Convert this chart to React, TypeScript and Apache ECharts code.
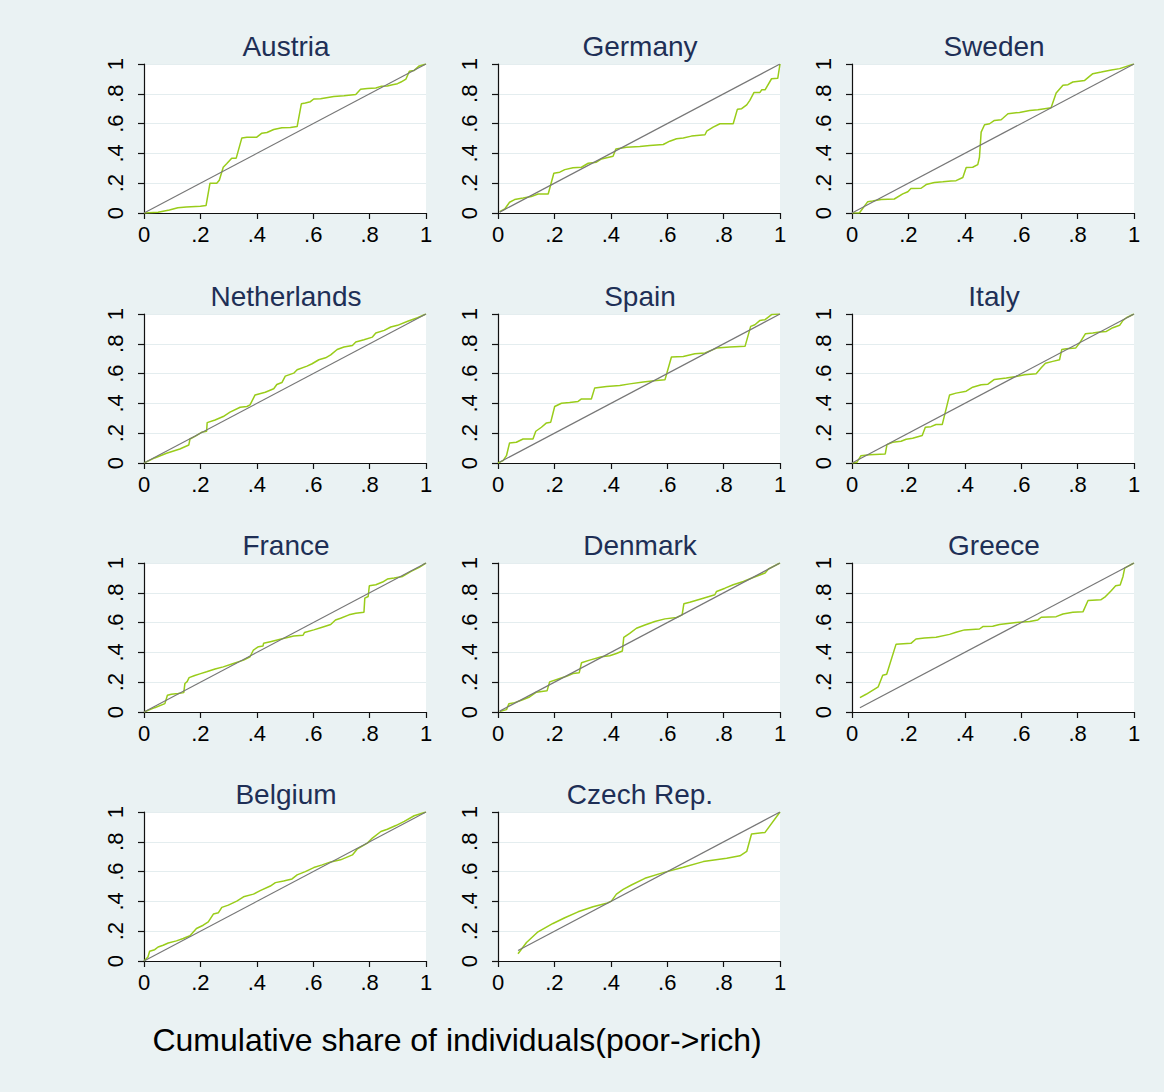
import React, { useEffect, useRef } from 'react';
import * as echarts from 'echarts';

const countries = ['Austria', 'Germany', 'Sweden', 'Netherlands', 'Spain', 'Italy', 'France', 'Denmark', 'Greece', 'Belgium', 'Czech Rep.'];

const austria = [[0,0],[0.05,0.005],[0.09,0.02],[0.12,0.035],[0.15,0.04],[0.2,0.045],[0.22,0.05],[0.234,0.2],[0.258,0.2],[0.267,0.22],[0.281,0.307],[0.293,0.33],[0.311,0.368],[0.327,0.368],[0.347,0.504],[0.365,0.509],[0.4,0.509],[0.418,0.536],[0.436,0.54],[0.46,0.56],[0.489,0.572],[0.519,0.574],[0.543,0.58],[0.558,0.733],[0.572,0.738],[0.59,0.747],[0.602,0.765],[0.626,0.767],[0.673,0.782],[0.709,0.787],[0.751,0.796],[0.768,0.83],[0.792,0.836],[0.822,0.839],[0.84,0.85],[0.863,0.852],[0.881,0.861],[0.899,0.868],[0.911,0.879],[0.929,0.899],[0.941,0.951],[0.958,0.957],[0.976,0.987],[1,1]];
const germany = [[0.006,0.009],[0.024,0.027],[0.041,0.072],[0.059,0.09],[0.089,0.1],[0.118,0.11],[0.142,0.128],[0.178,0.128],[0.198,0.267],[0.219,0.274],[0.237,0.291],[0.266,0.303],[0.296,0.307],[0.32,0.334],[0.349,0.341],[0.367,0.363],[0.408,0.381],[0.418,0.43],[0.456,0.442],[0.503,0.446],[0.538,0.453],[0.586,0.46],[0.609,0.482],[0.633,0.498],[0.657,0.504],[0.686,0.516],[0.734,0.525],[0.74,0.549],[0.763,0.576],[0.787,0.599],[0.834,0.599],[0.849,0.697],[0.864,0.7],[0.882,0.726],[0.893,0.756],[0.908,0.809],[0.929,0.809],[0.935,0.827],[0.947,0.827],[0.97,0.901],[0.992,0.904],[1,1]];
const sweden = [[0,0],[0.026,0],[0.056,0.076],[0.073,0.081],[0.103,0.09],[0.15,0.094],[0.18,0.128],[0.198,0.143],[0.209,0.164],[0.245,0.166],[0.263,0.191],[0.292,0.204],[0.322,0.209],[0.351,0.215],[0.369,0.217],[0.393,0.238],[0.405,0.305],[0.428,0.307],[0.446,0.325],[0.452,0.374],[0.458,0.543],[0.47,0.592],[0.488,0.599],[0.505,0.621],[0.529,0.626],[0.537,0.639],[0.553,0.666],[0.594,0.675],[0.63,0.688],[0.659,0.693],[0.689,0.702],[0.706,0.706],[0.724,0.805],[0.748,0.857],[0.766,0.861],[0.783,0.879],[0.825,0.89],[0.854,0.935],[0.884,0.946],[0.92,0.96],[0.949,0.969],[1,1]];
const netherlands = [[0,0],[0.038,0.034],[0.08,0.065],[0.127,0.094],[0.159,0.121],[0.163,0.161],[0.181,0.179],[0.204,0.206],[0.222,0.213],[0.224,0.271],[0.252,0.289],[0.281,0.312],[0.305,0.341],[0.341,0.374],[0.365,0.379],[0.376,0.39],[0.394,0.457],[0.43,0.475],[0.46,0.498],[0.471,0.527],[0.489,0.54],[0.501,0.583],[0.531,0.603],[0.543,0.626],[0.578,0.65],[0.596,0.666],[0.62,0.693],[0.644,0.706],[0.662,0.726],[0.685,0.762],[0.709,0.778],[0.739,0.789],[0.751,0.812],[0.78,0.827],[0.81,0.845],[0.822,0.872],[0.852,0.89],[0.875,0.913],[0.899,0.924],[0.935,0.951],[0.97,0.975],[1,1]];
const spain = [[0,0],[0.018,0.016],[0.03,0.049],[0.041,0.135],[0.065,0.139],[0.089,0.161],[0.124,0.161],[0.134,0.213],[0.154,0.24],[0.172,0.269],[0.187,0.274],[0.201,0.379],[0.225,0.401],[0.254,0.406],[0.284,0.413],[0.296,0.43],[0.331,0.43],[0.343,0.504],[0.385,0.513],[0.432,0.52],[0.467,0.531],[0.515,0.543],[0.562,0.554],[0.592,0.558],[0.615,0.711],[0.657,0.715],[0.698,0.733],[0.734,0.738],[0.775,0.771],[0.822,0.778],[0.876,0.783],[0.896,0.917],[0.911,0.928],[0.929,0.957],[0.947,0.962],[0.97,0.996],[1,1]];
const italy = [[0,0],[0.017,0.004],[0.032,0.049],[0.062,0.056],[0.118,0.061],[0.124,0.123],[0.144,0.139],[0.174,0.146],[0.192,0.159],[0.215,0.166],[0.249,0.184],[0.26,0.24],[0.28,0.244],[0.298,0.258],[0.32,0.258],[0.346,0.457],[0.369,0.469],[0.405,0.482],[0.428,0.509],[0.458,0.525],[0.482,0.529],[0.505,0.561],[0.547,0.57],[0.582,0.581],[0.612,0.592],[0.653,0.599],[0.671,0.639],[0.686,0.67],[0.712,0.682],[0.736,0.693],[0.744,0.762],[0.76,0.767],[0.793,0.771],[0.807,0.805],[0.828,0.868],[0.854,0.872],[0.878,0.879],[0.902,0.883],[0.925,0.908],[0.949,0.924],[0.961,0.957],[0.973,0.975],[1,1]];
const france = [[0,0],[0.038,0.029],[0.074,0.056],[0.083,0.112],[0.097,0.119],[0.121,0.124],[0.141,0.13],[0.145,0.191],[0.153,0.204],[0.16,0.231],[0.18,0.245],[0.198,0.256],[0.222,0.27],[0.252,0.288],[0.281,0.303],[0.317,0.326],[0.353,0.348],[0.376,0.371],[0.388,0.416],[0.406,0.438],[0.422,0.443],[0.424,0.461],[0.448,0.472],[0.483,0.488],[0.531,0.51],[0.564,0.515],[0.569,0.533],[0.602,0.551],[0.632,0.569],[0.662,0.587],[0.679,0.618],[0.697,0.629],[0.727,0.652],[0.751,0.663],[0.78,0.67],[0.783,0.764],[0.795,0.775],[0.799,0.847],[0.822,0.854],[0.846,0.872],[0.863,0.892],[0.887,0.899],[0.917,0.91],[0.947,0.944],[0.976,0.971],[1,1]];
const denmark = [[0.006,0.004],[0.03,0.016],[0.039,0.056],[0.059,0.063],[0.083,0.079],[0.112,0.101],[0.136,0.133],[0.174,0.142],[0.183,0.202],[0.219,0.225],[0.243,0.24],[0.266,0.258],[0.288,0.263],[0.296,0.33],[0.325,0.348],[0.367,0.371],[0.396,0.378],[0.42,0.393],[0.441,0.409],[0.446,0.501],[0.467,0.528],[0.491,0.562],[0.521,0.584],[0.556,0.607],[0.592,0.625],[0.633,0.634],[0.653,0.652],[0.659,0.726],[0.68,0.737],[0.728,0.764],[0.769,0.787],[0.775,0.809],[0.805,0.831],[0.834,0.854],[0.87,0.876],[0.905,0.903],[0.947,0.933],[0.959,0.96],[1,1]];
const greece = [[0.028,0.097],[0.05,0.119],[0.093,0.169],[0.109,0.247],[0.123,0.254],[0.156,0.454],[0.209,0.461],[0.227,0.49],[0.257,0.497],[0.298,0.501],[0.346,0.521],[0.369,0.535],[0.399,0.551],[0.452,0.557],[0.464,0.573],[0.499,0.575],[0.523,0.587],[0.582,0.6],[0.63,0.607],[0.659,0.618],[0.671,0.636],[0.724,0.64],[0.748,0.658],[0.783,0.67],[0.819,0.672],[0.837,0.748],[0.882,0.753],[0.899,0.775],[0.92,0.816],[0.935,0.847],[0.951,0.852],[0.961,0.91],[0.967,0.966],[1,1]];
const belgium = [[0,0],[0.014,0.027],[0.02,0.065],[0.038,0.076],[0.05,0.094],[0.068,0.106],[0.086,0.121],[0.115,0.135],[0.139,0.151],[0.163,0.169],[0.186,0.218],[0.21,0.24],[0.228,0.263],[0.246,0.315],[0.264,0.324],[0.276,0.36],[0.299,0.375],[0.329,0.402],[0.353,0.431],[0.388,0.449],[0.412,0.472],[0.448,0.503],[0.466,0.526],[0.495,0.537],[0.525,0.551],[0.543,0.578],[0.572,0.6],[0.602,0.627],[0.632,0.645],[0.662,0.665],[0.697,0.679],[0.739,0.712],[0.757,0.753],[0.792,0.791],[0.81,0.825],[0.84,0.869],[0.863,0.884],[0.893,0.909],[0.923,0.937],[0.958,0.975],[1,1]];
const czech = [[0.071,0.049],[0.101,0.124],[0.142,0.196],[0.195,0.252],[0.237,0.29],[0.284,0.33],[0.337,0.364],[0.385,0.387],[0.402,0.402],[0.42,0.449],[0.444,0.481],[0.473,0.51],[0.521,0.555],[0.586,0.593],[0.657,0.629],[0.728,0.667],[0.811,0.69],[0.858,0.706],[0.882,0.735],[0.899,0.852],[0.947,0.863],[1,1]];

const curves = [austria, germany, sweden, netherlands, spain, italy, france, denmark, greece, belgium, czech];
const diagonalStart = [0, 0.006, 0, 0, 0.005, 0, 0, 0.006, 0.028, 0, 0.071];
const tickLabels = ['0', '.2', '.4', '.6', '.8', '1'];
const xAxisTitle = 'Cumulative share of individuals(poor->rich)';

const FONT = '"Liberation Sans", Arial, Helvetica, sans-serif';
const colLeft = [144, 498, 852];
const rowTop = [64, 314, 563, 812];
const PW = 282;
const PH = 149;

function fmt(v: number) {
  const i = Math.round(v * 5);
  return tickLabels[i] ?? '';
}

export default function App() {
  const ref = useRef<HTMLDivElement>(null);
  useEffect(() => {
    document.body.style.margin = '0';
    const chart = echarts.init(ref.current!, undefined, { renderer: 'svg' });
    const grid: any[] = [];
    const xAxis: any[] = [];
    const yAxis: any[] = [];
    const series: any[] = [];
    const graphic: any[] = [];
    const axisLineStyle = { color: '#111', width: 1.2 };
    countries.forEach((name, i) => {
      const col = i % 3;
      const row = Math.floor(i / 3);
      grid.push({ left: colLeft[col], top: rowTop[row], width: PW, height: PH, show: true, backgroundColor: '#ffffff', borderWidth: 0, containLabel: false });
      xAxis.push({
        gridIndex: i, type: 'value', min: 0, max: 1, interval: 0.2,
        axisLine: { show: true, onZero: false, lineStyle: axisLineStyle },
        axisTick: { show: true, length: 6, lineStyle: axisLineStyle },
        axisLabel: { formatter: fmt, fontSize: 22, color: '#000', margin: 10, fontFamily: FONT, showMaxLabel: true, showMinLabel: true },
        splitLine: { show: false },
      });
      yAxis.push({
        gridIndex: i, type: 'value', min: 0, max: 1, interval: 0.2,
        axisLine: { show: true, onZero: false, lineStyle: axisLineStyle },
        axisTick: { show: true, length: 6, lineStyle: axisLineStyle },
        axisLabel: { formatter: fmt, fontSize: 22, color: '#000', margin: 18, rotate: 90, fontFamily: FONT, showMaxLabel: true, showMinLabel: true },
        splitLine: { show: true, lineStyle: { color: '#e4edef', width: 1.2 } },
      });
      series.push({
        type: 'line', xAxisIndex: i, yAxisIndex: i, data: curves[i], showSymbol: false, symbol: 'none',
        lineStyle: { color: '#99cc1a', width: 1.5 }, silent: true,
      });
      const s = diagonalStart[i];
      series.push({
        type: 'line', xAxisIndex: i, yAxisIndex: i, data: [[s, s], [1, 1]], showSymbol: false, symbol: 'none',
        lineStyle: { color: '#777777', width: 1.2 }, silent: true,
      });
      graphic.push({
        type: 'text', x: colLeft[col] + PW / 2 + 1, y: rowTop[row] - 18,
        style: { text: name, fontSize: 28, fontFamily: FONT, fill: '#1e2f56', textAlign: 'center', textVerticalAlign: 'middle' },
      });
    });
    graphic.push({
      type: 'text', x: 457, y: 1040,
      style: { text: xAxisTitle, fontSize: 32, fontFamily: FONT, fill: '#000', textAlign: 'center', textVerticalAlign: 'middle' },
    });
    chart.setOption({
      animation: false,
      backgroundColor: '#eaf2f3',
      grid, xAxis, yAxis, series, graphic,
    });
    return () => chart.dispose();
  }, []);
  return <div ref={ref} style={{ width: 1164, height: 1092 }} />;
}
